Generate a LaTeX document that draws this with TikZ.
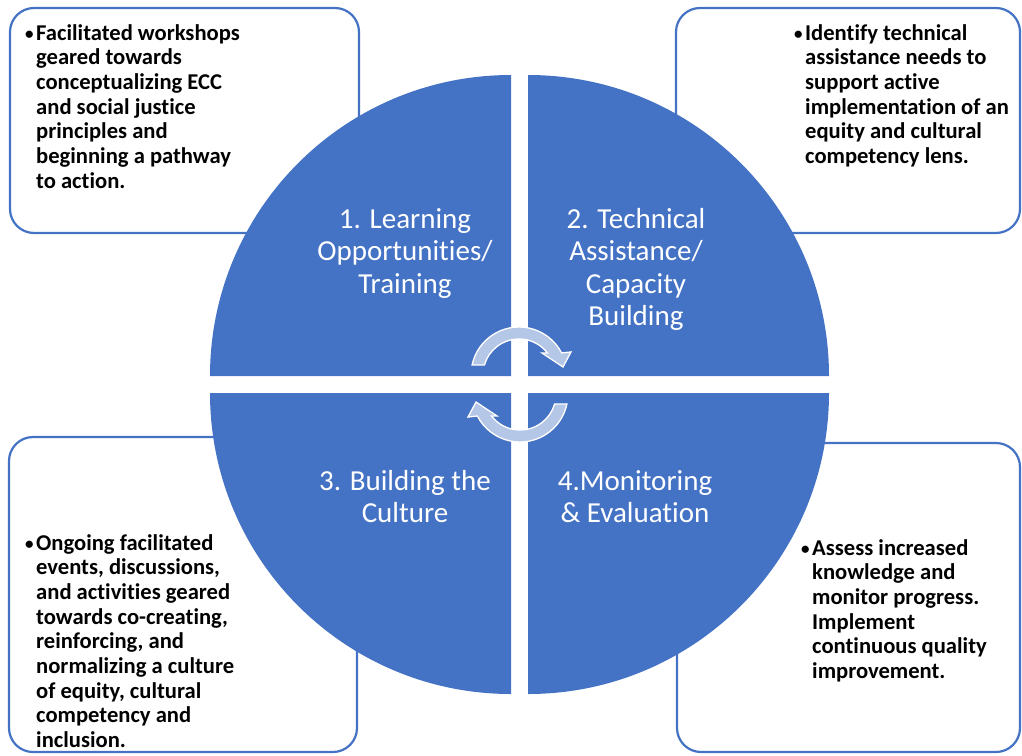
\documentclass[tikz,border=0pt]{standalone}
\usepackage{fontspec}
\setmainfont{Carlito}[Ligatures={NoCommon}]
\usetikzlibrary{calc}
\definecolor{accent}{HTML}{4472C4}
\definecolor{arrowblue}{HTML}{B4C7E7}
\begin{document}
\begin{tikzpicture}[x=1pt,y=-1pt,
  infobox/.style={draw=accent, line width=2.2pt, rounded corners=24pt, fill=white},
  quad/.style={fill=accent, draw=none},
  % multi-line nodes: the base anchor sits on the baseline of the last line
  boxtext/.style={anchor=base west, align=left, inner sep=0pt, text=black,
    font=\fontsize{22.6}{24.7}\selectfont\bfseries},
  quadtext/.style={anchor=base, align=center, inner sep=0pt, text=white,
    font=\fontsize{29}{32.5}\selectfont},
  cycarrow/.pic={
    \path[fill=arrowblue, draw=white, line width=1.3pt, line join=miter]
      (168:48pt) arc[start angle=168, end angle=27.3, radius=48pt]
      -- (23.9:56.9pt) -- (10.3:44.7pt) -- (43.7:31.8pt) -- (37.7:36pt)
      arc[start angle=37.7, end angle=164, radius=36pt] -- cycle;
  }]
\useasboundingbox (0,0) rectangle (1022,755);

% surrounding description panels
\draw[infobox] (10,8) rectangle (359,233);
\draw[infobox] (676,8) rectangle (1020,233);
\draw[infobox] (9,437) rectangle (357,752);
\draw[infobox] (677,443) rectangle (1020,752);

% four quadrants of the cycle
\fill[quad] (511,376) -- (210,376) arc[start angle=180, end angle=90, radius=301pt] -- cycle;
\fill[quad] (528,376) -- (528,75) arc[start angle=90, end angle=0, radius=301pt] -- cycle;
\fill[quad] (511,393) -- (511,694) arc[start angle=270, end angle=180, radius=301pt] -- cycle;
\fill[quad] (528,393) -- (829,393) arc[start angle=0, end angle=-90, radius=301pt] -- cycle;

% quadrant titles
\node[quadtext] (q1) at (405,293) {1. Learning\\Opportunities/\\Training};
\node[quadtext] (q2) at (636,325.5) {2. Technical\\Assistance/\\Capacity\\Building};
\node[quadtext] (q3) at (405,522.5) {3. Building the\\Culture};
\node[quadtext] (q4) at (635,522.5) {4.Monitoring\\\& Evaluation};

% circular arrows in the middle
\coordinate (c1) at (519,375);
\coordinate (c2) at (520,394);
\pic at (c1) {cycarrow};
\pic[rotate=180] at (c2) {cycarrow};

% panel texts with a hanging bullet
\newcommand{\bul}{\llap{\raisebox{1pt}{\fontsize{17}{17}\selectfont\textbullet}\hspace{2.5pt}}}
\node[boxtext] (t1) at (36,188.2) {\bul Facilitated workshops\\geared towards\\conceptualizing ECC\\and social justice\\principles and\\beginning a pathway\\to action.};
\node[boxtext] (t2) at (805,163.5) {\bul Identify technical\\assistance needs to\\support active\\implementation of an\\equity and cultural\\competency lens.};
\node[boxtext] (t3) at (36,747.6) {\bul Ongoing facilitated\\events, discussions,\\and activities geared\\towards co-creating,\\reinforcing, and\\normalizing a culture\\of equity, cultural\\competency and\\inclusion.};
\node[boxtext] (t4) at (812,678.5) {\bul Assess increased\\knowledge and\\monitor progress.\\Implement\\continuous quality\\improvement.};
\end{tikzpicture}
\end{document}
